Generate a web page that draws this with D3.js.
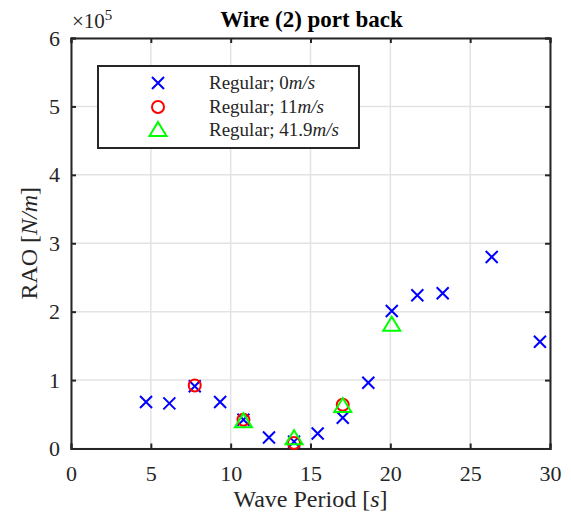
<!DOCTYPE html>
<html>
<head>
<meta charset="utf-8">
<script src="https://cdn.jsdelivr.net/npm/d3@7"></script>
<style>
  body { margin: 0; background: #fff; }
</style>
</head>
<body>
<svg id="chart" width="571" height="519" font-family="Liberation Serif"></svg>
<script>
// wave period [s] and RAO [x1e5 N/m] per series
let blueT = [4.70, 6.16, 7.75, 9.34, 10.8, 12.4, 13.97, 15.45, 17.02, 18.62, 20.09, 21.69, 23.28, 26.35, 29.37];
let blueR = [0.68, 0.66, 0.91, 0.68, 0.42, 0.16, 0.10, 0.22, 0.45, 0.96, 2.01, 2.24, 2.27, 2.80, 1.56];
let redT = [7.75, 10.8, 13.97, 17.02];
let redR = [0.92, 0.42, 0.08, 0.64];
let greenT = [10.8, 13.97, 17.02, 20.09];
let greenR = [0.40, 0.15, 0.62, 1.81];

let xTicks = [0, 5, 10, 15, 20, 25, 30];
let yTicks = [0, 1, 2, 3, 4, 5, 6];
let legendLabels = ["0", "11", "41.9"];

let svg = d3.select("#chart");
let pLeft = 71, pRight = 550, pTop = 38, pBottom = 448.5;
let axisCol = "#262626";
let serif = "Liberation Serif";

let xMap = d3.scaleLinear().domain([0, 30]).range([pLeft, pRight]);
let yMap = d3.scaleLinear().domain([0, 6]).range([pBottom, pTop]);

// grid
let grid = svg.append("g");
xTicks.forEach(t => {
    grid.append("line").attr("x1", xMap(t)).attr("x2", xMap(t)).attr("y1", pTop).attr("y2", pBottom)
        .attr("stroke", "#e3e3e3").attr("stroke-width", 1.5);
});
yTicks.forEach(t => {
    grid.append("line").attr("x1", pLeft).attr("x2", pRight).attr("y1", yMap(t)).attr("y2", yMap(t))
        .attr("stroke", "#e3e3e3").attr("stroke-width", 1.5);
});

// axes
let ax = svg.append("g");
ax.append("g").attr("transform", `translate(0,${pBottom})`)
    .call(d3.axisBottom(xMap).tickValues(xTicks).tickFormat(d3.format("d")).tickSize(-5).tickPadding(17));
ax.append("g").attr("transform", `translate(${pLeft},0)`)
    .call(d3.axisLeft(yMap).tickValues(yTicks).tickFormat(d3.format("d")).tickSize(-5).tickPadding(11));
ax.append("g").attr("transform", `translate(0,${pTop})`)
    .call(d3.axisTop(xMap).tickValues(xTicks).tickSize(-5).tickFormat(""));
ax.append("g").attr("transform", `translate(${pRight},0)`)
    .call(d3.axisRight(yMap).tickValues(yTicks).tickSize(-5).tickFormat(""));
ax.selectAll("g").attr("font-family", serif).attr("font-size", 22);
ax.selectAll("path.domain").attr("stroke", axisCol).attr("stroke-width", 2);
ax.selectAll(".tick line").attr("stroke", axisCol).attr("stroke-width", 2);
ax.selectAll(".tick text").attr("font-family", serif).attr("font-size", 22).attr("fill", axisCol);

// markers
function cross(g, x, y, s) {
    g.append("path").attr("d", `M${x - s},${y - s}L${x + s},${y + s}M${x - s},${y + s}L${x + s},${y - s}`)
        .attr("stroke", "#0000ff").attr("stroke-width", 2).attr("fill", "none");
}
function circ(g, x, y) {
    g.append("circle").attr("cx", x).attr("cy", y).attr("r", 6)
        .attr("stroke", "#ff0000").attr("stroke-width", 2).attr("fill", "none");
}
function tri(g, x, y) {
    g.append("path").attr("d", `M${x},${y - 8}L${x + 8.5},${y + 6}L${x - 8.5},${y + 6}Z`)
        .attr("stroke", "#00ff00").attr("stroke-width", 2).attr("fill", "none");
}

let pts = svg.append("g");
blueT.forEach((t, i) => cross(pts, xMap(t), yMap(blueR[i]), 6));
redT.forEach((t, i) => circ(pts, xMap(t), yMap(redR[i])));
greenT.forEach((t, i) => tri(pts, xMap(t), yMap(greenR[i])));

// exponent
let ex = svg.append("text").attr("x", 72).attr("y", 28).attr("font-family", serif)
    .attr("font-size", 21).attr("fill", axisCol);
ex.append("tspan").text("×10");
ex.append("tspan").attr("dy", -8).attr("font-size", 15).text("5");

// title
svg.append("text").attr("x", (pLeft + pRight) / 2 + 1).attr("y", 27).attr("text-anchor", "middle")
    .attr("font-family", serif).attr("font-size", 23).attr("font-weight", "bold").attr("fill", "#000")
    .text("Wire (2) port back");

// axis labels
let xl = svg.append("text").attr("x", (pLeft + pRight) / 2).attr("y", 507).attr("text-anchor", "middle")
    .attr("font-family", serif).attr("font-size", 24).attr("fill", axisCol);
xl.append("tspan").text("Wave Period [");
xl.append("tspan").attr("font-style", "italic").text("s");
xl.append("tspan").text("]");

let yl = svg.append("text").attr("transform", `translate(37,${(pTop + pBottom) / 2}) rotate(-90)`)
    .attr("text-anchor", "middle").attr("font-family", serif).attr("font-size", 24).attr("fill", axisCol);
yl.append("tspan").text("RAO [");
yl.append("tspan").attr("font-style", "italic").text("N/m");
yl.append("tspan").text("]");

// legend
let lg = svg.append("g");
lg.append("rect").attr("x", 98).attr("y", 66).attr("width", 261).attr("height", 82)
    .attr("fill", "#fff").attr("stroke", axisCol).attr("stroke-width", 2);
let rowsY = [83, 107, 130];
cross(lg, 158, rowsY[0], 6);
circ(lg, 158, rowsY[1]);
tri(lg, 158, rowsY[2]);
legendLabels.forEach((l, i) => {
    let t = lg.append("text").attr("x", 209).attr("y", rowsY[i] + 6)
        .attr("font-family", serif).attr("font-size", 19).attr("fill", axisCol);
    t.append("tspan").text("Regular; " + l);
    t.append("tspan").attr("font-style", "italic").text("m/s");
});
</script>
</body>
</html>
